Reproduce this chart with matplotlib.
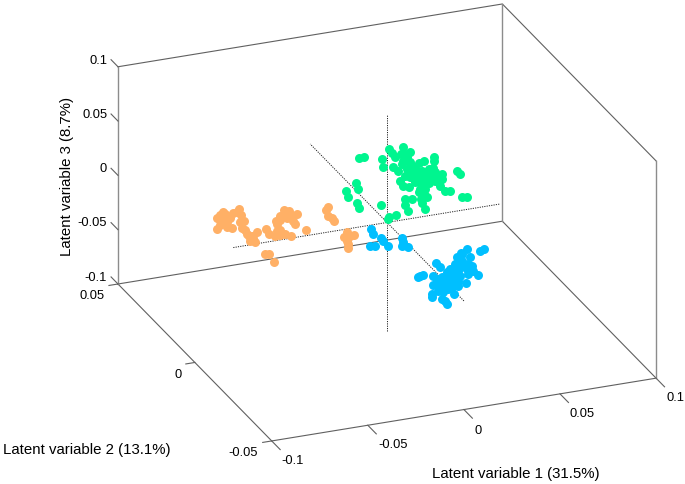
import numpy as np
import matplotlib
matplotlib.use('Agg')
import matplotlib.pyplot as plt

plt.rcParams['font.family'] = ['Liberation Sans', 'DejaVu Sans']

# latent variable scores (lv2 taken as one value per group)
orange_lv1 = [-0.0856, -0.0870, -0.0884, -0.0849, -0.0887, -0.0870, -0.0835, -0.0832, -0.0809, -0.0800,
              -0.0769, -0.0762, -0.0766, -0.0745, -0.0757, -0.0740, -0.0717, -0.0714, -0.0688, -0.0675,
              -0.0696, -0.0844, -0.0818, -0.0632, -0.0615, -0.0575, -0.0583, -0.0557, -0.0531, -0.0502,
              -0.0422, -0.0578, -0.0557, -0.0536, -0.0509, -0.0470, -0.0519, -0.0479, -0.0488, -0.0557,
              -0.0635, -0.0616, -0.0589, -0.0306, -0.0318, -0.0306, -0.0288, -0.0276, -0.0210, -0.0224,
              -0.0193, -0.0172, -0.0210, -0.0201, -0.0201,
              -0.0870, -0.0835, -0.0783, -0.0731, -0.0705, -0.0557, -0.0519, -0.0497, -0.0201, -0.0575]
orange_lv3 = [0.0348, 0.0316, 0.0295, 0.0279, 0.0198, 0.0230, 0.0244, 0.0197, 0.0181, 0.0320,
              0.0342, 0.0290, 0.0224, 0.0233, 0.0166, 0.0140, 0.0087, 0.0040, 0.0017, 0.0106,
              0.0056, 0.0323, 0.0276, 0.0124, 0.0073, 0.0092, 0.0048, 0.0047, 0.0048, 0.0018,
              0.0050, 0.0185, 0.0225, 0.0265, 0.0248, 0.0212, 0.0189, 0.0125, 0.0159, 0.0188,
              -0.0106, -0.0111, -0.0190, 0.0229, 0.0211, 0.0152, 0.0122, 0.0094, -0.0029, -0.0072,
              -0.0065, -0.0065, -0.0106, -0.0180, -0.0140,
              0.0270, 0.0299, 0.0321, 0.0106, 0.0083, 0.0087, 0.0229, 0.0207, -0.0078, 0.0153]
orange_lv2 = 0.0

green_lv1 = [0.0015, 0.0042, 0.0136, 0.0141, 0.0171, 0.0188, 0.0245, 0.0280, 0.0233, 0.0193,
             0.0219, 0.0245, 0.0263, 0.0298, 0.0324, 0.0350, 0.0403, 0.0402, 0.0397, 0.0280,
             0.0306, 0.0228, 0.0245, 0.0272, 0.0306, 0.0338, 0.0358, 0.0384, 0.0410, 0.0445,
             0.0445, 0.0410, 0.0376, 0.0341, 0.0436, 0.0463, 0.0489, 0.0523, 0.0541, 0.0549,
             0.0575, 0.0324, 0.0350, 0.0367, 0.0338, 0.0344, 0.0289, 0.0251, 0.0251, 0.0268,
             0.0358, -0.0003, 0.0011, -0.0055, -0.0041, 0.0002, 0.0015, 0.0129, 0.0171, 0.0207,
             0.0167,
             0.0237, 0.0280, 0.0315, 0.0341, 0.0367, 0.0393, 0.0419, 0.0324, 0.0292, 0.0254,
             0.0202, 0.0254, 0.0332, 0.0358, 0.0410, 0.0428, 0.0263, 0.0298, 0.0376, 0.0332]
green_lv3 = [0.0301, 0.0305, 0.0256, 0.0178, 0.0339, 0.0294, 0.0332, 0.0276, 0.0274, 0.0163,
             0.0125, 0.0209, 0.0128, 0.0133, 0.0162, 0.0173, 0.0200, 0.0164, 0.0098, 0.0046,
             0.0053, 0.0030, -0.0021, -0.0044, -0.0008, 0.0029, 0.0038, 0.0046, 0.0054, 0.0029,
             -0.0018, -0.0023, -0.0037, -0.0033, -0.0076, -0.0130, -0.0144, 0.0036, 0.0001, -0.0211,
             -0.0218, -0.0105, -0.0128, -0.0158, -0.0171, -0.0213, -0.0156, -0.0145, -0.0198, -0.0258,
             -0.0269, 0.0073, 0.0016, 0.0014, -0.0039, -0.0113, -0.0160, -0.0162, -0.0285, -0.0277,
             -0.0306,
             0.0181, 0.0184, 0.0097, 0.0089, -0.0010, 0.0013, 0.0005, 0.0002, 0.0079, 0.0069,
             0.0253, 0.0268, -0.0077, -0.0085, 0.0023, -0.0043, 0.0235, 0.0025, 0.0095, 0.0061]
green_lv2 = 0.02

blue_lv1 = [-0.0324, -0.0312, -0.0272, -0.0260, -0.0237, -0.0329, -0.0303, -0.0164, -0.0156, -0.0164,
            -0.0133, -0.0069, -0.0077, -0.0051, 0.0013, 0.0035, 0.0001, 0.0018, 0.0001, -0.0005,
            -0.0005, 0.0048, 0.0070, 0.0061, 0.0110, 0.0061, 0.0035, 0.0044, 0.0070, 0.0088,
            0.0114, 0.0122, 0.0145, 0.0174, 0.0192, 0.0244, 0.0266, 0.0204, 0.0232, 0.0209,
            0.0166, 0.0148, 0.0183, 0.0169, 0.0131, 0.0114, 0.0088, 0.0114, 0.0079, 0.0131,
            0.0096, 0.0114, 0.0140, 0.0140, 0.0174, 0.0148, 0.0114, 0.0070, 0.0044, 0.0079,
            0.0053, 0.0027, 0.0096, 0.0183, 0.0131]
blue_lv3 = [0.0468, 0.0418, 0.0370, 0.0336, 0.0286, 0.0316, 0.0308, 0.0339, 0.0296, 0.0268,
            0.0244, -0.0036, -0.0043, -0.0032, 0.0054, 0.0010, -0.0056, -0.0092, -0.0139, -0.0224,
            -0.0248, -0.0285, -0.0338, -0.0311, -0.0257, -0.0197, -0.0159, -0.0084, -0.0046, -0.0020,
            0.0018, 0.0077, 0.0108, 0.0139, 0.0063, 0.0103, 0.0112, -0.0023, -0.0114, -0.0071,
            -0.0027, 0.0039, -0.0094, -0.0176, -0.0140, -0.0166, -0.0128, -0.0074, -0.0094, -0.0048,
            -0.0069, -0.0028, -0.0005, -0.0097, -0.0045, 0.0100, -0.0120, -0.0138, -0.0130, -0.0202,
            -0.0225, -0.0202, -0.0192, -0.0002, -0.0186]
blue_lv2 = -0.03

x_ticks = [-0.1, -0.05, 0, 0.05, 0.1]
y_ticks = [-0.05, 0, 0.05]
z_ticks = [-0.1, -0.05, 0, 0.05, 0.1]
x_tick_labels = ['-0.1', '-0.05', '0', '0.05', '0.1']
y_tick_labels = ['-0.05', '0', '0.05']
z_tick_labels = ['-0.1', '-0.05', '0', '0.05', '0.1']
x_title = 'Latent variable 1 (31.5%)'
y_title = 'Latent variable 2 (13.1%)'
z_title = 'Latent variable 3 (8.7%)'

x_lim = (-0.1, 0.1)
y_lim = (-0.05, 0.05)
z_lim = (-0.1, 0.1)

W, H = 685, 485
fig = plt.figure(figsize=(W / 100, H / 100), dpi=100, facecolor='white')

# square axes bigger than the figure so the box comes out at the right size
side = 613.5
ax = fig.add_axes([72 / W, -53.5 / H, side / W, side / H], projection='3d',
                  proj_type='ortho', computed_zorder=False)
ax.view_init(elev=24.1, azim=-111.8)
ax.set_box_aspect((1, 1, 238 / 414))
ax.set_xlim(x_lim)
ax.set_ylim(y_lim)
ax.set_zlim(z_lim)
ax.set_axis_off()


def line3(xs, ys, zs, color='#606060', lw=0.8, **kw):
    ax.plot(xs, ys, zs, color=color, lw=lw, zorder=1, **kw)


x0, x1 = x_lim
y0, y1 = y_lim
z0, z1 = z_lim

# box: floor, back walls, verticals
line3([x0, x0, x1, x1, x0], [y1, y0, y0, y1, y1], [z0, z0, z0, z0, z0])
line3([x0, x1, x1], [y1, y1, y0], [z1, z1, z1])
for cx, cy in [(x0, y1), (x1, y1), (x1, y0)]:
    line3([cx, cx], [cy, cy], [z0, z1], color='#8c8c8c', lw=1.0)

# ticks
for t in x_ticks:
    line3([t, t], [y0, y0 - 0.0055], [z0, z0])
for t in y_ticks:
    line3([x0, x0 - 0.0047], [t, t], [z0, z0])
for t in z_ticks:
    line3([x0, x0], [y1, y1 + 0.0045], [t, t])

# origin cross
dot = (0, (1.2, 1.2))
line3([-0.08, 0.059], [0, 0], [0, 0], color='#222222', lw=0.7, linestyle=dot)
line3([0, 0], [y0, y1], [0, 0], color='#222222', lw=0.7, linestyle=dot)
line3([0, 0], [0, 0], [z0, z1], color='#222222', lw=0.7, linestyle=dot)

# groups
ax.scatter(orange_lv1, orange_lv2, orange_lv3, s=42, c='#ffb066', linewidths=0, depthshade=False, zorder=2)
ax.scatter(blue_lv1, blue_lv2, blue_lv3, s=42, c='#00bfff', linewidths=0, depthshade=False, zorder=3)
ax.scatter(green_lv1, green_lv2, green_lv3, s=42, c='#00f58f', linewidths=0, depthshade=False, zorder=4)

# tick labels
tick_fs = 9.3
x_label_shift = [0.0026, 0.0047, -0.0010, 0.0031, 0.0016]
for t, lab, dx in zip(x_ticks, x_tick_labels, x_label_shift):
    ax.text(t + dx, y0 - 0.0105, z0 - 0.003, lab, ha='center', va='center', fontsize=tick_fs, color='black')
for t, lab in zip(y_ticks, y_tick_labels):
    ax.text(x0 - 0.007, t, z0 - 0.0085, lab, ha='right', va='center', fontsize=tick_fs, color='black')
for t, lab in zip(z_ticks, z_tick_labels):
    ax.text(x0, y1 + 0.007, t - 0.0035, lab, ha='right', va='center', fontsize=tick_fs, color='black')

title_fs = 10.8
fig.text(432 / W, 1 - 474 / H, x_title, ha='left', va='center', fontsize=title_fs)
fig.text(3 / W, 1 - 450 / H, y_title, ha='left', va='center', fontsize=title_fs)
fig.text(67 / W, 1 - 176 / H, z_title, ha='center', va='center', rotation=90, fontsize=title_fs)

fig.savefig('out.png', dpi=100, facecolor='white')
